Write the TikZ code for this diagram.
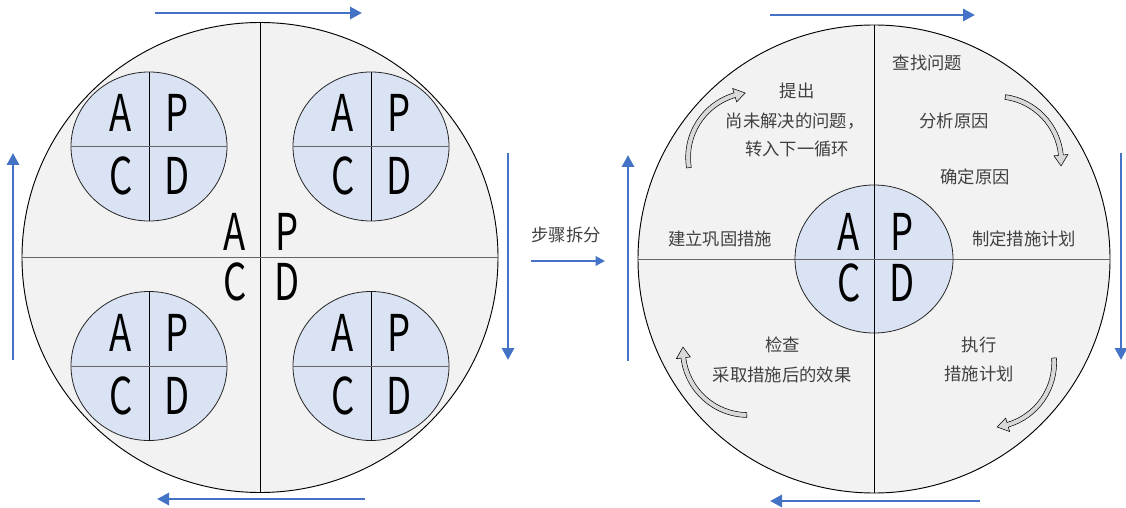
\documentclass[tikz,border=0pt]{standalone}
\usepackage{fontspec}
\setmainfont{Noto Sans CJK SC}
\usetikzlibrary{arrows.meta,shapes.geometric}
\definecolor{bg}{HTML}{F2F2F2}
\definecolor{innerblue}{HTML}{DAE3F3}
\definecolor{arrowblue}{HTML}{4472C4}
\definecolor{txt}{HTML}{404040}
\newcommand\pdletter[1]{\scalebox{0.72}[1]{#1}}
% #1,#2 centre of the arrow's own arc, #3 radius, #4 tail angle, #5 tip angle (clockwise)
\newcommand\curvedarrow[5]{%
  \pgfmathsetmacro\ab{#5+9.5}%
  \pgfmathsetmacro\ro{#3+2.4}\pgfmathsetmacro\ri{#3-2.4}%
  \pgfmathsetmacro\rho{#3+7}\pgfmathsetmacro\rhi{#3-7}%
  \begin{scope}[shift={(#1,#2)}]
  \filldraw[curv] (#4:\ro) arc[start angle=#4,end angle=\ab,radius=\ro] -- (\ab:\rho) -- (#5:#3) -- (\ab:\rhi) -- (\ab:\ri) arc[start angle=\ab,end angle=#4,radius=\ri] -- cycle;
  \end{scope}}
\begin{document}
\begin{tikzpicture}[x=0.75pt,y=0.75pt,
  big/.style={ellipse,draw=black,fill=bg,inner sep=0,outer sep=0,line width=0.7pt},
  small/.style={ellipse,draw=black!85,fill=innerblue,inner sep=0,outer sep=0,line width=0.6pt},
  divv/.style={draw=black,line width=0.6pt},
  divh/.style={draw=black!60,line width=0.6pt},
  letter/.style={font=\fontsize{38}{38}\selectfont,text=black,inner sep=0},
  lbl/.style={font=\fontsize{13}{16}\selectfont,text=txt,align=center,inner sep=0},
  flow/.style={draw=arrowblue,line width=2.2pt,-{Triangle[length=9pt,width=9pt]}},
  curv/.style={fill=gray!30,draw=black,line width=0.4pt}
]
\useasboundingbox (0,0) rectangle (1126,507);

% ---------- left big circle ----------
\node[big,minimum width=357pt,minimum height=352.5pt] (L) at (260,249.5) {};
\draw[divv] (L.north) -- (L.south);
\draw[divh] (L.west) -- (L.east);

\foreach \n/\cx/\cy in {s1/149/360.5, s2/371/360.5, s3/149/141, s4/371/141}{
  \node[small,minimum width=117pt,minimum height=111.75pt] (\n) at (\cx,\cy) {};
  \draw[divv] (\n.north) -- (\n.south);
  \draw[divh] (\n.west) -- (\n.east);
  \node[letter] (\n A) at (\cx-28,\cy+33.5) {\pdletter{A}};
  \node[letter] (\n P) at (\cx+28,\cy+33.5) {\pdletter{P}};
  \node[letter] (\n C) at (\cx-28,\cy-29.5) {\pdletter{C}};
  \node[letter] (\n D) at (\cx+28,\cy-29.5) {\pdletter{D}};
}
\node[letter] (LA) at (235,275) {\pdletter{A}};
\node[letter] (LP) at (287,275) {\pdletter{P}};
\node[letter] (LC) at (235,225) {\pdletter{C}};
\node[letter] (LD) at (287,225) {\pdletter{D}};

% ---------- right big circle ----------
\node[big,minimum width=354pt,minimum height=351pt] (R) at (874,248) {};
\draw[divv] (R.north) -- (R.south);
\draw[divh] (R.west) -- (R.east);
\node[small,minimum width=118.5pt,minimum height=111pt] (RC) at (874,248) {};
\draw[divv] (RC.north) -- (RC.south);
\draw[divh] (RC.west) -- (RC.east);
\node[letter] (RA) at (849,275) {\pdletter{A}};
\node[letter] (RP) at (902,275) {\pdletter{P}};
\node[letter] (RCc) at (849,224) {\pdletter{C}};
\node[letter] (RD) at (902,224) {\pdletter{D}};

% labels
\node[lbl] (t1) at (797,416) {提出};
\node[lbl] (t2) at (795,386) {尚未解决的问题，};
\node[lbl] (t3) at (797,358) {转入下一循环};
\node[lbl] (t4) at (927.5,444) {查找问题};
\node[lbl] (t5) at (954,386) {分析原因};
\node[lbl] (t6) at (975,330) {确定原因};
\node[lbl] (t7) at (720,268) {建立巩固措施};
\node[lbl] (t8) at (1024,268) {制定措施计划};
\node[lbl] (t9) at (782.5,162) {检查};
\node[lbl] (t10) at (782,132) {采取措施后的效果};
\node[lbl] (t11) at (979,162) {执行};
\node[lbl] (t12) at (979,133) {措施计划};
\node[lbl] (t13) at (566,272) {步骤拆分};

% curved arrows
\curvedarrow{753.1}{349.5}{65}{189}{97}
\curvedarrow{996.2}{345.6}{65}{82}{-4}
\curvedarrow{989.2}{144.5}{65}{4}{-83}
\curvedarrow{747.9}{157}{65}{-91}{-182.6}

% blue flow arrows
\coordinate (a1s) at (155,494); \coordinate (a1e) at (362,494);
\coordinate (a2s) at (13,147);  \coordinate (a2e) at (13,354);
\coordinate (a3s) at (508,354); \coordinate (a3e) at (508,147);
\coordinate (a4s) at (365,8);   \coordinate (a4e) at (157,8);
\coordinate (a5s) at (531,246); \coordinate (a5e) at (605,246);
\coordinate (a6s) at (770,492); \coordinate (a6e) at (975,492);
\coordinate (a7s) at (628,146); \coordinate (a7e) at (628,352);
\coordinate (a8s) at (1121,354); \coordinate (a8e) at (1121,147);
\coordinate (a9s) at (980,6);   \coordinate (a9e) at (770,6);
\draw[flow] (a1s) -- (a1e);
\draw[flow] (a2s) -- (a2e);
\draw[flow] (a3s) -- (a3e);
\draw[flow] (a4s) -- (a4e);
\draw[flow,line width=1.5pt,-{Triangle[length=7pt,width=7pt]}] (a5s) -- (a5e);
\draw[flow] (a6s) -- (a6e);
\draw[flow] (a7s) -- (a7e);
\draw[flow] (a8s) -- (a8e);
\draw[flow] (a9s) -- (a9e);
\end{tikzpicture}
\end{document}
